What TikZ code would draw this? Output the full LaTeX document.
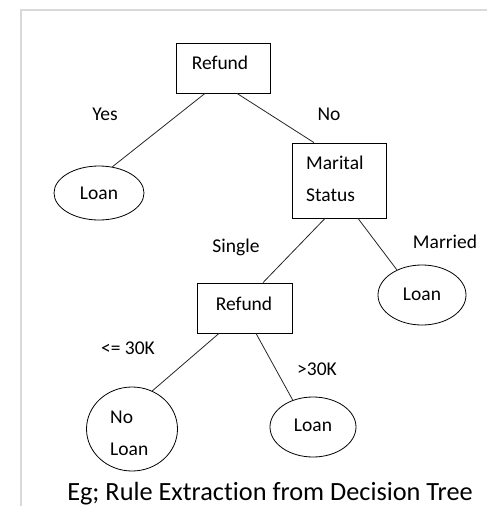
\documentclass[tikz,border=0pt]{standalone}
\usepackage{fontspec}
\setmainfont[Ligatures=NoCommon]{Carlito}
\usetikzlibrary{calc,shapes.geometric}
\begin{document}
\begin{tikzpicture}[x=1pt,y=-1pt,
  frame/.style={draw=black!15,line width=1.5pt},
  decision/.style={draw,line width=0.8pt,rectangle,inner sep=0pt},
  leaf/.style={draw,line width=0.8pt,ellipse,inner sep=0pt},
  edge/.style={draw=black!85,line width=0.8pt},
  txt/.style={inner sep=0pt,font=\fontsize{19.5}{32}\selectfont,align=left},
  caption/.style={inner sep=0pt,font=\fontsize{26.3}{32}\selectfont}]
\useasboundingbox (0,0) rectangle (487,506);
% page edge
\draw[frame] (20,10) -- (487,10);
\draw[frame] (21,10) -- (21,506);
% decision boxes
\node[decision,minimum width=94pt,minimum height=50pt] (r1) at (223,68) {};
\node[decision,minimum width=94pt,minimum height=75pt] (ms) at (339,180.5) {};
\node[decision,minimum width=95pt,minimum height=50pt] (r2) at (244.5,308) {};
% leaves
\node[leaf,minimum width=90pt,minimum height=54pt] (l1) at (99,193) {};
\node[leaf,minimum width=88pt,minimum height=60pt] (l2) at (422,295) {};
\node[leaf,minimum width=91pt,minimum height=84pt] (nl) at (132,429) {};
\node[leaf,minimum width=86pt,minimum height=60pt] (l3) at (313,427) {};
% node texts
\node[txt] (r1t) at (220,63) {Refund};
\node[txt,anchor=west] (mst) at (306,179) {Marital\\Status};
\node[txt] (r2t) at (244,304) {Refund};
\node[txt] (l1t) at (99,193) {Loan};
\node[txt] (l2t) at (422,294) {Loan};
\node[txt,anchor=west] (nlt) at (110,433) {No\\Loan};
\node[txt] (l3t) at (313,425) {Loan};
% branches
\draw[edge] ($(r1.south)+(-18,0)$) -- (l1.63);
\draw[edge] ($(r1.south)+(14,0)$) -- ($(ms.north)+(-25,0)$);
\draw[edge] ($(ms.south)+(-14,0)$) -- ($(r2.north)+(18.5,0)$);
\draw[edge] ($(ms.south)+(19,0)$) -- (l2.135);
\draw[edge] ($(r2.south)+(-25.5,0)$) -- (nl.62);
\draw[edge] ($(r2.south)+(11.5,0)$) -- (l3.127);
% branch labels
\node[txt] (yes) at (105,114) {Yes};
\node[txt] (no) at (329,114) {No};
\node[txt] (single) at (236,247) {Single};
\node[txt] (married) at (445,242) {Married};
\node[txt] (le30) at (128,348) {<= 30K};
\node[txt] (gt30) at (317,369) {>30K};
% caption
\node[caption,anchor=base] (cap) at (270,500) {Eg; Rule Extraction from Decision Tree};
\end{tikzpicture}
\end{document}
